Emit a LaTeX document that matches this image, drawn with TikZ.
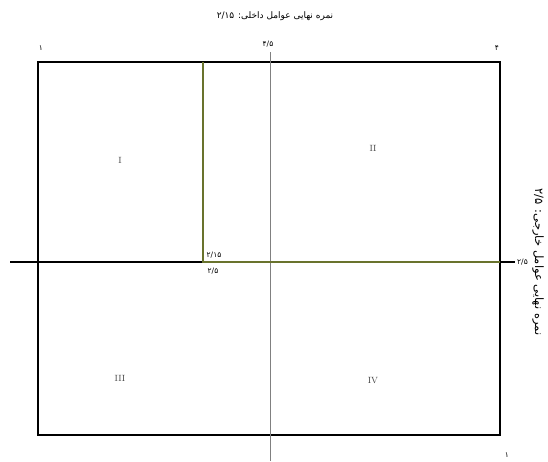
\documentclass[tikz,border=0pt]{standalone}
\usepackage{fontspec}
\TeXXeTstate=1
\newfontfamily\farsifont[Script=Arabic]{DejaVu Sans}
\definecolor{cutgreen}{RGB}{105,115,45}

\begin{document}
\begin{tikzpicture}[x=1pt,y=-1pt,
  frame/.style={black,line width=2.5pt},
  numlbl/.style={font=\farsifont\fontsize{7.5}{8}\selectfont,inner sep=0pt},
  quadlbl/.style={font=\fontsize{9}{10}\selectfont,text=black!75,inner sep=0pt}]
  \useasboundingbox (0,0) rectangle (548,461);

  % outer frame
  \draw[frame] (38,62) rectangle (500,435);

  % middle axes
  \draw[gray,line width=0.6pt] (270,52) -- (270,461);
  \coordinate (axL) at (10,262);
  \coordinate (axR) at (515,262);
  \draw[frame] (axL) -- (axR);

  % cut lines (internal 2.15 / external 2.5)
  \coordinate (cutTop) at (203,62);
  \coordinate (cutMid) at (203,262);
  \coordinate (cutEnd) at (500,262);
  \draw[cutgreen,line width=2pt] (cutTop) -- (cutMid) -- (cutEnd);

  % scale values
  \node[numlbl] (lblTL) at (41,48) {۱};
  \node[numlbl] (lblTM) at (268,44) {۴/۵};
  \node[numlbl] (lblTR) at (497,48) {۴};
  \node[numlbl] (lblBR) at (507,455) {۱};
  \node[numlbl] (lblIn) at (214,255) {۲/۱۵};
  \node[numlbl] (lblOut) at (213,271) {۲/۵};
  \node[numlbl,anchor=west] (lblRt) at ([xshift=2pt]axR) {۲/۵};

  % quadrants
  \node[quadlbl] (qI) at (120,160) {I};
  \node[quadlbl] (qII) at (373,148) {II};
  \node[quadlbl] (qIII) at (120,378) {III};
  \node[quadlbl] (qIV) at (373,381) {IV};

  % titles
  \node[numlbl,font=\farsifont\fontsize{9}{10}\selectfont] (ttlTop) at (275,16)
    {\beginR نمره نهایی عوامل داخلی: \beginL۲/۱۵\endL\endR};
  \node[numlbl,font=\farsifont\fontsize{11.5}{12}\selectfont,rotate=-90] (ttlRight) at (538,262)
    {\beginR نمره نهایی عوامل خارجی: \beginL۲/۵\endL\endR};
\end{tikzpicture}
\end{document}
